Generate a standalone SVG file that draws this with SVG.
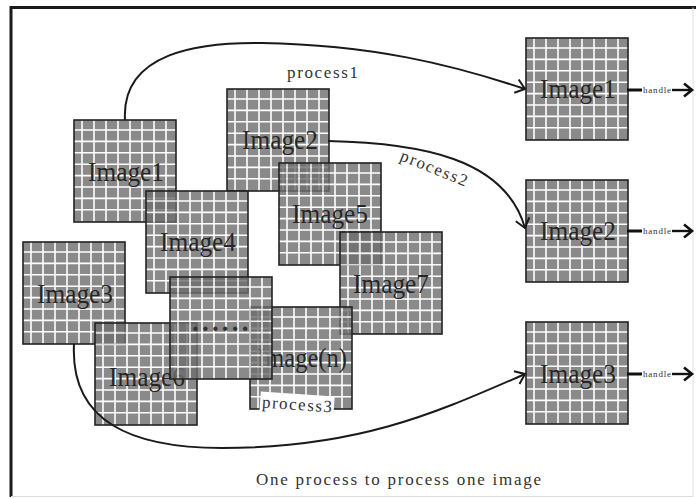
<svg xmlns="http://www.w3.org/2000/svg" xmlns:xlink="http://www.w3.org/1999/xlink" width="696" height="498" viewBox="0 0 696 498">
<style>
.lbl{font-family:"Liberation Serif","DejaVu Serif",serif;font-size:27px;fill:#262626;text-anchor:middle}
.ser{font-family:"Liberation Serif","DejaVu Serif",serif;fill:#333}
.conn{fill:none;stroke:#1a1a1a;stroke-width:2}
</style>
<defs>
<g id="tile">
<g opacity="0.8">
<rect width="102" height="102" fill="#6e6e6e"/>
<path d="M8,0V102M20,0V102M32,0V102M44,0V102M56,0V102M68,0V102M80,0V102M92,0V102M0,10H102M0,21.4H102M0,32.8H102M0,44.2H102M0,55.6H102M0,67H102M0,78.4H102M0,89.8H102" stroke="#fff" stroke-width="1.6"/>
</g>
<rect width="102" height="102" fill="none" stroke="#222" stroke-width="1.6"/>
</g>
<marker id="arr" markerUnits="userSpaceOnUse" markerWidth="14" markerHeight="18" refX="10" refY="8" orient="auto" viewBox="0 0 14 18">
<path d="M1,1L10,8L1,15" fill="none" stroke="#1a1a1a" stroke-width="2"/>
</marker>
<marker id="arrH" markerUnits="userSpaceOnUse" markerWidth="14" markerHeight="18" refX="10" refY="8" orient="auto" viewBox="0 0 14 18">
<path d="M2,1.5L10,8L2,14.5" fill="none" stroke="#111" stroke-width="2.6"/>
</marker>
</defs>
<rect width="696" height="498" fill="#fff"/>
<g id="frame">
<path d="M11,497V7.5H696" fill="none" stroke="#1a1a1a" stroke-width="3"/>
<path d="M11,496.5H693V7.5" fill="none" stroke="#ddd" stroke-width="1"/>
</g>
<g id="nodes">
<g id="src-image1"><use xlink:href="#tile" x="74" y="120"/><text class="lbl" x="126" y="181" textLength="76" lengthAdjust="spacingAndGlyphs">Image1</text></g>
<g id="src-image2"><use xlink:href="#tile" x="227" y="89"/><text class="lbl" x="280" y="149" textLength="76" lengthAdjust="spacingAndGlyphs">Image2</text></g>
<g id="src-image3"><use xlink:href="#tile" x="23" y="242"/><text class="lbl" x="75" y="303" textLength="76" lengthAdjust="spacingAndGlyphs">Image3</text></g>
<g id="src-image4"><use xlink:href="#tile" x="146" y="191"/><text class="lbl" x="198" y="251" textLength="76" lengthAdjust="spacingAndGlyphs">Image4</text></g>
<g id="src-image5"><use xlink:href="#tile" x="279" y="163"/><text class="lbl" x="330" y="223" textLength="76" lengthAdjust="spacingAndGlyphs">Image5</text></g>
<g id="src-image7"><use xlink:href="#tile" x="340" y="232"/><text class="lbl" x="391" y="293" textLength="76" lengthAdjust="spacingAndGlyphs">Image7</text></g>
<g id="src-imagen"><use xlink:href="#tile" x="250" y="307"/><text class="lbl" x="302" y="367" textLength="90" lengthAdjust="spacingAndGlyphs">Image(n)</text></g>
<g id="src-image6"><use xlink:href="#tile" x="95" y="323"/><text class="lbl" x="147" y="386" textLength="76" lengthAdjust="spacingAndGlyphs">Image6</text></g>
<g id="src-dots"><use xlink:href="#tile" x="170" y="277"/><text class="ser" x="192" y="331" font-size="27" font-weight="bold" letter-spacing="3.2" fill="#111">......</text></g>
<g id="out-image1"><use xlink:href="#tile" x="526" y="38"/><text class="lbl" x="578" y="98" textLength="76" lengthAdjust="spacingAndGlyphs">Image1</text></g>
<g id="out-image2"><use xlink:href="#tile" x="526" y="180"/><text class="lbl" x="578" y="240" textLength="76" lengthAdjust="spacingAndGlyphs">Image2</text></g>
<g id="out-image3"><use xlink:href="#tile" x="526" y="322"/><text class="lbl" x="578" y="383" textLength="76" lengthAdjust="spacingAndGlyphs">Image3</text></g>
</g>
<g id="connectors">
<path class="conn" d="M125,120C121,52 200,42 262,43C372,45 450,64 525,89" marker-end="url(#arr)"/>
<text class="ser" x="287" y="78" font-size="17" textLength="71" lengthAdjust="spacing">process1</text>
<path class="conn" d="M328,141C420,143 505,158 525,228" marker-end="url(#arr)"/>
<text class="ser" font-size="17" transform="translate(399,160) rotate(22)" textLength="71" lengthAdjust="spacing">process2</text>
<path class="conn" d="M74,344C70,422 132,448 222,448C362,448 442,410 525,374" marker-end="url(#arr)"/>
<g transform="rotate(4 297 405)">
<rect x="260" y="394" width="74" height="20" fill="#fff"/>
<text class="ser" x="262" y="410" font-size="17" textLength="70" lengthAdjust="spacing">process3</text>
</g>
<g id="handles">
<path d="M627,90H642M627,231H642M627,374H642" stroke="#111" stroke-width="3"/>
<text class="ser" x="643" y="93" font-size="9" textLength="28" lengthAdjust="spacing" fill="#555">handle</text>
<text class="ser" x="643" y="234" font-size="9" textLength="28" lengthAdjust="spacing" fill="#555">handle</text>
<text class="ser" x="643" y="377" font-size="9" textLength="28" lengthAdjust="spacing" fill="#555">handle</text>
<path d="M672,90H692" stroke="#111" stroke-width="2.4" marker-end="url(#arrH)"/>
<path d="M672,231H692" stroke="#111" stroke-width="2.4" marker-end="url(#arrH)"/>
<path d="M672,374H692" stroke="#111" stroke-width="2.4" marker-end="url(#arrH)"/>
</g>
</g>
<text class="ser" x="256" y="485" font-size="17" textLength="285" lengthAdjust="spacing">One process to process one image</text>
</svg>
